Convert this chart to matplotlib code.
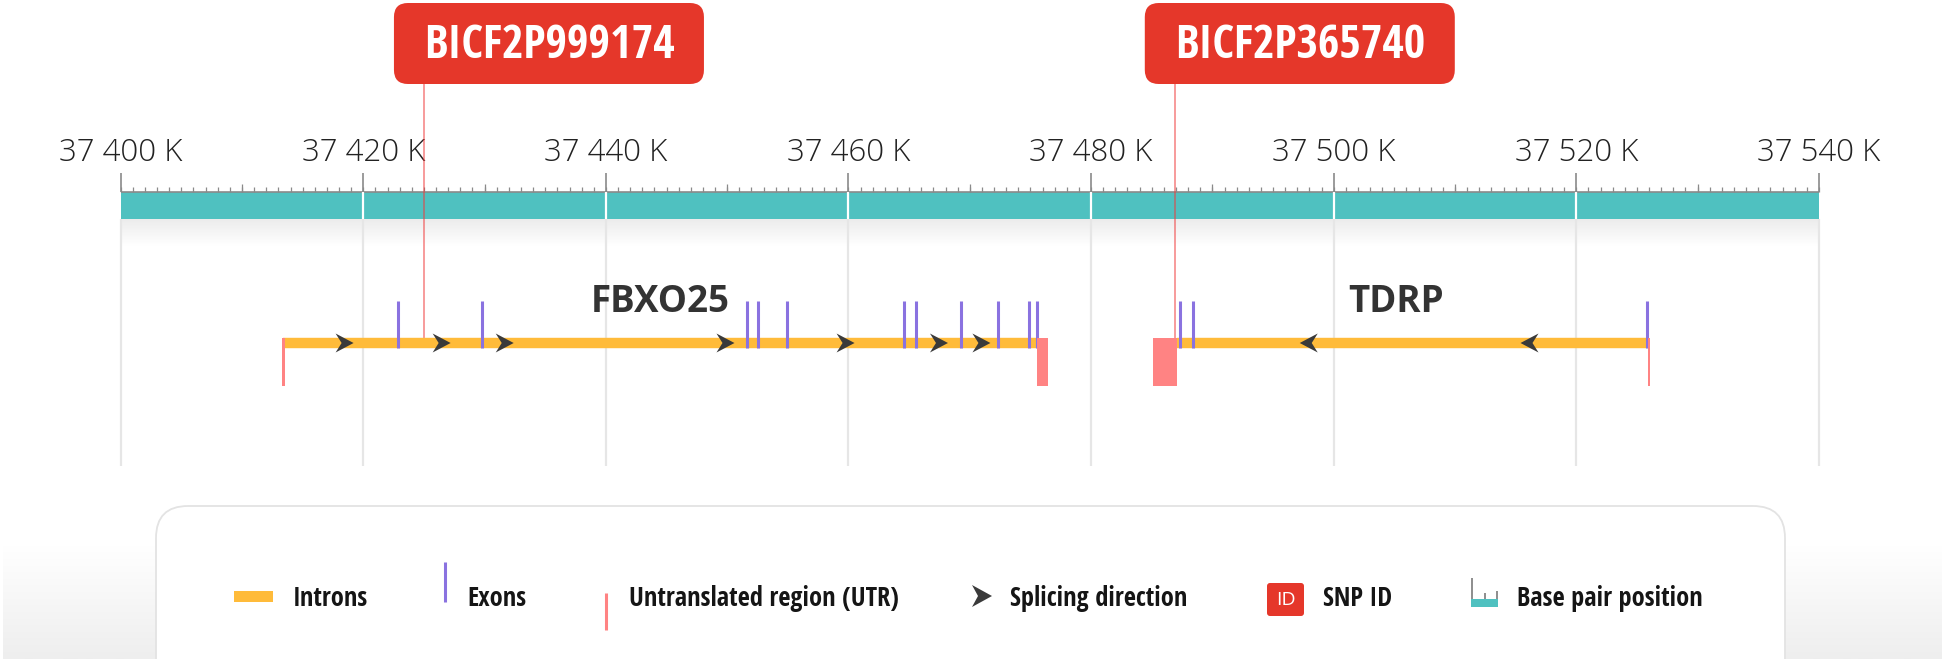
import numpy as np
import matplotlib.pyplot as plt
from matplotlib import font_manager
from matplotlib.colors import LinearSegmentedColormap
from matplotlib.patches import FancyBboxPatch, Polygon, Rectangle

installed = {f.name for f in font_manager.fontManager.ttflist}
NARROW = next(n for n in ["Open Sans Condensed", "Roboto Condensed", "Liberation Sans Narrow",
                          "Roboto", "DejaVu Sans"] if n in installed)
plt.rcParams["font.family"] = [NARROW, "DejaVu Sans"]

W, H = 1944, 659

# axis (positions in K)
axis_ticks = [37400, 37420, 37440, 37460, 37480, 37500, 37520, 37540]
axis_labels = ["37 400 K", "37 420 K", "37 440 K", "37 460 K",
               "37 480 K", "37 500 K", "37 520 K", "37 540 K"]

# genes
gene_names = ["FBXO25", "TDRP"]
intron_start = [37413.4, 37487.1]
intron_end = [37475.6, 37526.0]
exons = [
    [37422.9, 37429.8, 37451.6, 37452.5, 37454.9, 37464.6, 37465.6,
     37469.3, 37472.3, 37474.9, 37475.5],
    [37487.3, 37488.4, 37525.8],
]
utrs = [
    [(37413.3, 37413.55), (37475.55, 37476.45)],
    [(37485.1, 37487.1), (37525.95, 37526.05)],
]
arrows = [
    [37419.2, 37427.2, 37432.4, 37450.6, 37460.5, 37468.2, 37471.7],
    [37497.2, 37515.4],
]
strand = [1, -1]

# SNPs
snp_ids = ["BICF2P999174", "BICF2P365740"]
snp_pos = [37425.0, 37486.9]

legend_labels = ["Introns", "Exons", "Untranslated region (UTR)",
                 "Splicing direction", "SNP ID", "Base pair position"]

TEAL = "#4fc1c0"
INTRON = "#ffbb3a"
EXON = "#8a72e0"
UTR = "#ff8383"
RED = "#e5372a"
DARK = "#3a3a3a"

px_per_k = 12.13
x0 = axis_ticks[0] - 120.7 / px_per_k

fig = plt.figure(figsize=(W / 100, H / 100), dpi=100)
ax = fig.add_axes([0, 0, 1, 1])
ax.set_xlim(x0, x0 + W / px_per_k)
ax.set_ylim(H, 0)
ax.axis("off")

px = fig.add_axes([0, 0, 1, 1])
px.set_xlim(0, W)
px.set_ylim(H, 0)
px.axis("off")
px.patch.set_alpha(0)


def k2px(k):
    return px.transData.inverted().transform(ax.transData.transform((k, 0)))[0]


pk = 1 / px_per_k  # one pixel in K units

# ---- ruler ----
lo, hi = axis_ticks[0], axis_ticks[-1]
ax.broken_barh([(lo, hi - lo)], (192, 27), facecolor=TEAL, zorder=2)
ax.hlines(191.5, lo, hi, color="#8a8a8a", lw=1.2, zorder=3)
minor = np.arange(lo, hi + 1, 1)
ax.vlines(minor, 187, 192, color="#8a8a8a", lw=0.9, zorder=3)
ax.vlines(np.arange(lo + 10, hi, 20), 184, 192, color="#8a8a8a", lw=0.9, zorder=3)
ax.vlines(axis_ticks, 173, 192, color="#8a8a8a", lw=1.2, zorder=3)
ax.vlines(axis_ticks[1:-1], 192, 219, color="white", lw=1.6, zorder=3)
for t, lab in zip(axis_ticks, axis_labels):
    ax.text(t, 161, lab, ha="center", va="baseline", fontsize=22.5, fontweight="light",
            color="#222222", family=["Open Sans", "DejaVu Sans"])

# shadow under ruler
grad = np.linspace(0, 1, 50).reshape(-1, 1)
ax.imshow(grad, cmap=LinearSegmentedColormap.from_list("s", ["#ececec", "#ffffff"]),
          extent=(lo, hi, 246, 219), aspect="auto", zorder=0)

# grid lines
ax.vlines(axis_ticks, 219, 466, color="#e6e6e6", lw=1.6, zorder=1)

# ---- genes ----
for g in range(len(gene_names)):
    ax.hlines(343, intron_start[g], intron_end[g], color=INTRON, lw=7.5, zorder=4)
    ax.vlines(exons[g], 301, 348, color=EXON, lw=2.2, zorder=5)
    for a, b in utrs[g]:
        ax.add_patch(Rectangle((a, 338), b - a, 48, facecolor=UTR, edgecolor="none", zorder=5))
    s = strand[g]
    for t in arrows[g]:
        verts = [(t, 343), (t - s * 18 * pk, 333.5), (t - s * 12 * pk, 343),
                 (t - s * 18 * pk, 352.5)]
        ax.add_patch(Polygon(verts, closed=True, facecolor=DARK, edgecolor="none", zorder=6))
    mid = (min(intron_start[g], utrs[g][0][0]) + max(intron_end[g], utrs[g][-1][1])) / 2
    ax.text(mid - 0.4, 312, gene_names[g], ha="center", va="baseline", fontsize=26.5,
            fontweight="bold", color="#333333", family=["Open Sans", "DejaVu Sans"])

# ---- SNP markers ----
for name, pos in zip(snp_ids, snp_pos):
    ax.vlines(pos, 84, 338, color="#f03a3a", alpha=0.55, lw=1.3, zorder=3.5)
    xb = k2px(pos) - 30
    px.add_patch(FancyBboxPatch((xb, 3), 310, 81, boxstyle="round,pad=0,rounding_size=14",
                                facecolor=RED, edgecolor="none", zorder=5))
    px.text(xb + 155, 45, name, ha="center", va="center", fontsize=33.5,
            fontweight="bold", color="white", zorder=6)

# ---- legend ----
bgrad = np.linspace(0, 1, 100).reshape(-1, 1)
px.imshow(bgrad, cmap=LinearSegmentedColormap.from_list("b", ["#ffffff", "#eeeeee"]),
          extent=(3, 1941, 659, 545), aspect="auto", zorder=0)
px.add_patch(FancyBboxPatch((156, 506), 1629, 220, boxstyle="round,pad=0,rounding_size=32",
                            facecolor="white", edgecolor="#e3e3e3", lw=1.3, zorder=1))

ty = 598
px.add_patch(Rectangle((234, 591), 39, 11, facecolor=INTRON, edgecolor="none", zorder=2))
px.vlines(445, 562, 602, color=EXON, lw=2.2, zorder=2)
px.vlines(606, 593, 630, color=UTR, lw=2.2, zorder=2)
px.add_patch(Polygon([(992, 596), (972, 585), (978, 596), (972, 607)], closed=True,
                     facecolor=DARK, edgecolor="none", zorder=2))
px.add_patch(FancyBboxPatch((1267, 583), 37, 33, boxstyle="round,pad=0,rounding_size=3",
                            facecolor=RED, edgecolor="none", zorder=2))
px.text(1285.5, 600, "ID", ha="center", va="center", fontsize=14, color="white",
        family=["Open Sans", "DejaVu Sans"], zorder=3)
px.add_patch(Rectangle((1471, 599), 27, 8, facecolor=TEAL, edgecolor="none", zorder=2))
px.vlines([1472, 1484.5, 1497], [578, 593, 591], 599, color="#7a7a7a", lw=1.2, zorder=2)

leg_x = [293, 467, 629, 1010, 1323, 1517]
for x, lab in zip(leg_x, legend_labels):
    px.text(x, ty, lab, ha="left", va="center", fontsize=19, fontweight="bold",
            color="#151515", zorder=3)

fig.savefig("out.png", dpi=100, facecolor="white")
